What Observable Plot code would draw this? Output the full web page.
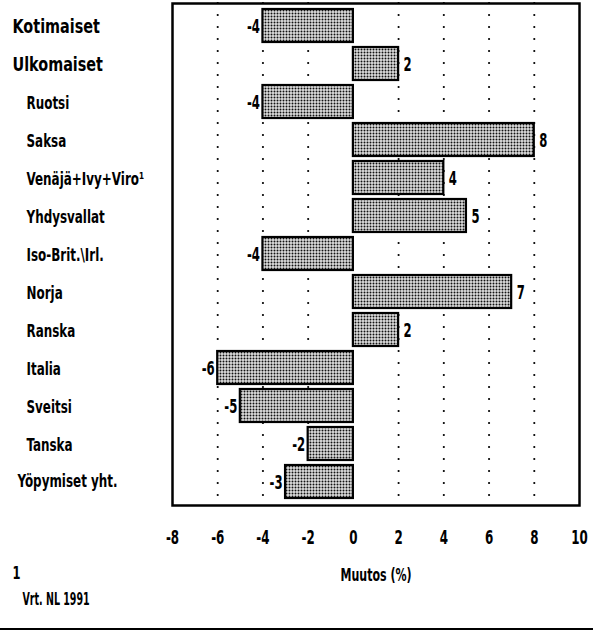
<!DOCTYPE html>
<html>
<head>
<meta charset="utf-8">
<script src="https://cdn.jsdelivr.net/npm/d3@7"></script>
<script src="https://cdn.jsdelivr.net/npm/@observablehq/plot@0.6"></script>
<style>
  html, body { margin: 0; padding: 0; background: #fff; }
  #wrap { width: 593px; height: 628px; border-bottom: 2px solid #000; overflow: hidden; }
  svg text { font-family: "DejaVu Sans Condensed", "Liberation Sans Narrow", "DejaVu Sans", sans-serif; font-stretch: condensed; font-weight: bold; }
</style>
</head>
<body>
<div id="wrap"></div>
<script>
const categories = ["Kotimaiset", "Ulkomaiset", "Ruotsi", "Saksa", "Venäjä+Ivy+Viro¹", "Yhdysvallat", "Iso-Brit.\\Irl.", "Norja", "Ranska", "Italia", "Sveitsi", "Tanska", "Yöpymiset yht."];
const values = [-4, 2, -4, 8, 4, 5, -4, 7, 2, -6, -5, -2, -3];
const mainCategories = ["Kotimaiset", "Ulkomaiset"];
const totalCategory = "Yöpymiset yht.";
const xTicks = [-8, -6, -4, -2, 0, 2, 4, 6, 8, 10];
const gridTicks = [-6, -4, -2, 2, 4, 6, 8];
const xLabel = "Muutos (%)";
const footnote = ["1", "Vrt. NL 1991"];

const data = categories.map((c, i) => ({cat: c, value: values[i]}));
const subCategories = categories.filter(c => !mainCategories.includes(c) && c !== totalCategory);

const chart = Plot.plot({
  width: 593,
  height: 628,
  marginLeft: 172,
  marginRight: 14,
  marginTop: 3,
  marginBottom: 123,
  x: {domain: [-8, 10], ticks: xTicks, tickSize: 0, tickPadding: 24, label: null, tickFormat: d => String(d)},
  y: {domain: categories, padding: 0.13, axis: null},
  marks: [
    Plot.ruleX(gridTicks, {stroke: "#000", strokeWidth: 2.2, strokeDasharray: "0,12", strokeLinecap: "round"}),
    Plot.barX(data, {x: "value", y: "cat", fill: "url(#stipple)", stroke: "#000", strokeWidth: 2.2}),
    Plot.text(data.filter(d => d.value > 0), {x: "value", y: "cat", text: d => String(d.value), dx: 5, dy: 1, textAnchor: "start", fontSize: 20}),
    Plot.text(data.filter(d => d.value < 0), {x: "value", y: "cat", text: d => String(d.value), dx: -3, dy: 1, textAnchor: "end", fontSize: 20}),
    Plot.text(mainCategories, {y: d => d, text: d => d, frameAnchor: "left", dx: -160, dy: 1, textAnchor: "start", fontSize: 20}),
    Plot.text(subCategories, {y: d => d, text: d => d, frameAnchor: "left", dx: -146, dy: 2, textAnchor: "start", fontSize: 17}),
    Plot.text([totalCategory], {y: d => d, text: d => d, frameAnchor: "left", dx: -155, textAnchor: "start", fontSize: 17}),
    Plot.text([xLabel], {text: d => d, frameAnchor: "bottom", dy: 75, fontSize: 18}),
    Plot.text([footnote[0]], {text: d => d, frameAnchor: "bottom-left", dx: -160, dy: 73, textAnchor: "start", fontSize: 17}),
    Plot.text([footnote[1]], {text: d => d, frameAnchor: "bottom-left", dx: -150, dy: 99, textAnchor: "start", fontSize: 17}),
    Plot.frame({stroke: "#000", strokeWidth: 2.5})
  ]
});

// stipple pattern for bar fill
const ns = "http://www.w3.org/2000/svg";
const defs = document.createElementNS(ns, "defs");
const pat = document.createElementNS(ns, "pattern");
pat.setAttribute("id", "stipple");
pat.setAttribute("width", "3");
pat.setAttribute("height", "3");
pat.setAttribute("patternUnits", "userSpaceOnUse");
const bg = document.createElementNS(ns, "rect");
bg.setAttribute("width", "3"); bg.setAttribute("height", "3"); bg.setAttribute("fill", "#e0e0e0");
const dot = document.createElementNS(ns, "circle");
dot.setAttribute("cx", "1.5"); dot.setAttribute("cy", "1.5"); dot.setAttribute("r", "1.0"); dot.setAttribute("fill", "#111");
pat.appendChild(bg); pat.appendChild(dot); defs.appendChild(pat);
chart.insertBefore(defs, chart.firstChild);

const xg = chart.querySelector("g[aria-label='x-axis tick label']") || chart.querySelector("g[aria-label='x-axis']");
if (xg) xg.setAttribute("font-size", "20");

document.getElementById("wrap").appendChild(chart);

// condense the lettering to mimic the narrow typeface of the original
function squeeze(texts, factor) {
  texts.forEach(t => {
    const len = t.getComputedTextLength();
    if (len > 0) {
      t.setAttribute("textLength", (len * factor).toFixed(1));
      t.setAttribute("lengthAdjust", "spacingAndGlyphs");
    }
  });
}
const textGroups = Array.from(chart.querySelectorAll("g[aria-label='text']"));
const factors = [0.65, 0.65, 0.8, 0.78, 0.78, 0.68, 0.75, 0.62];
textGroups.forEach((g, i) => squeeze(Array.from(g.querySelectorAll("text")), factors[i] ?? 0.8));
if (xg) squeeze(Array.from(xg.querySelectorAll("text")), 0.66);
</script>
</body>
</html>
